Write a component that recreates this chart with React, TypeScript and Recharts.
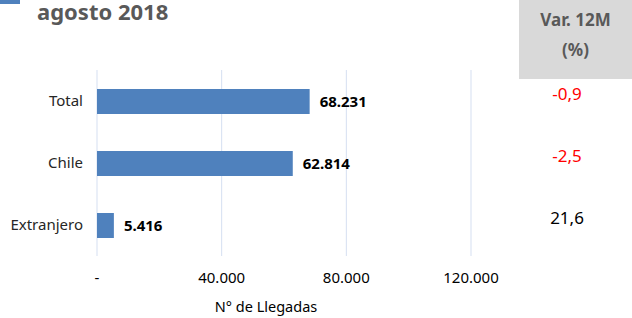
import { BarChart, Bar, XAxis, YAxis, CartesianGrid, LabelList } from "recharts";

const categories = ["Total", "Chile", "Extranjero"];
const llegadas = [68231, 62814, 5416];
const var12m = ["-0,9", "-2,5", "21,6"];
const xTicks = [0, 40000, 80000, 120000];

const data = categories.map((name, i) => ({ name, value: llegadas[i], var: var12m[i] }));

const FONT = "'Noto Sans', sans-serif";
const BAR = "#4f81bd";

const fmt = (v: number) => (v === 0 ? "-" : v.toLocaleString("de-DE"));

function VarLabel(props: any) {
  const { y, height, value } = props;
  const neg = String(value).startsWith("-");
  return (
    <text
      x={567}
      y={y + height / 2 - 8}
      textAnchor="middle"
      dominantBaseline="central"
      fontSize={17}
      fontFamily={FONT}
      fill={neg ? "#ff0000" : "#000000"}
    >
      {value}
    </text>
  );
}

export default function App() {
  return (
    <div style={{ position: "absolute", left: 0, top: 0, width: 632, height: 318, background: "#fff", fontFamily: FONT }}>
      <div style={{ position: "absolute", left: 0, top: 0, width: 20, height: 4, background: BAR }} />
      <div style={{ position: "absolute", left: 37, top: 0, fontSize: 22, lineHeight: "22px", fontWeight: 700, color: "#595959" }}>
        agosto 2018
      </div>
      <div
        style={{
          position: "absolute",
          left: 519,
          top: 0,
          width: 113,
          height: 79,
          background: "#d9d9d9",
          color: "#595959",
          fontWeight: 700,
          fontSize: 17,
          textAlign: "center",
          lineHeight: "30px",
          paddingTop: 5,
          boxSizing: "border-box",
        }}
      >
        Var. 12M
        <br />
        (%)
      </div>
      <BarChart
        width={632}
        height={318}
        data={data}
        layout="vertical"
        margin={{ top: 70, right: 161, bottom: 0, left: 0 }}
        style={{ position: "absolute", left: 0, top: 0 }}
      >
        <CartesianGrid horizontal={false} stroke="#d5dff1" />
        <XAxis
          type="number"
          domain={[0, 120000]}
          ticks={xTicks}
          tickFormatter={fmt}
          axisLine={false}
          tickLine={false}
          tick={{ fontSize: 15, fill: "#000", fontFamily: FONT }}
          tickMargin={10}
          height={62}
          label={{ value: "N° de Llegadas", position: "insideBottom", offset: 6, dx: -18, fontSize: 14.5, fill: "#000", fontFamily: FONT }}
        />
        <YAxis
          type="category"
          dataKey="name"
          width={97}
          axisLine={false}
          tickLine={false}
          tickMargin={8}
          tick={{ fontSize: 15, fill: "#262626", fontFamily: FONT }}
        />
        <Bar dataKey="value" fill={BAR} barSize={25} isAnimationActive={false}>
          <LabelList
            dataKey="value"
            position="right"
            offset={10}
            formatter={(v: any) => fmt(Number(v))}
            style={{ fontSize: 15, fontWeight: 700, fill: "#000", fontFamily: FONT }}
          />
          <LabelList dataKey="var" content={<VarLabel />} />
        </Bar>
      </BarChart>
    </div>
  );
}
